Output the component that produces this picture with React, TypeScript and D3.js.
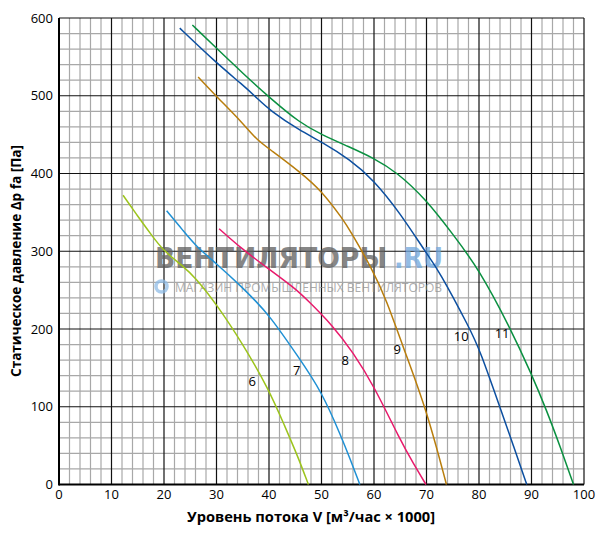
import * as d3 from "d3";

// fan performance curves: [flow (x1000 m3/h), static pressure Pa]
const fan6: [number, number][] = [
  [12.2, 372], [15, 345], [17.5, 322], [19.8, 301], [23.6, 281], [26, 266],
  [30, 232], [35, 181], [40, 122], [43, 75], [45.5, 36], [47.5, 0],
];
const fan7: [number, number][] = [
  [20.5, 352], [23.6, 327], [26, 307], [30, 284], [35, 253], [37.3, 237],
  [40, 218], [45.5, 165], [50, 120], [53.8, 61], [55.5, 32], [57.3, 0],
];
const fan8: [number, number][] = [
  [30.5, 329], [35, 302], [40, 277], [45, 252], [47.2, 238], [52.2, 204],
  [56, 170], [59.9, 128], [65, 57], [67.5, 27], [69.9, 0],
];
const fan9: [number, number][] = [
  [26.5, 524], [30, 499], [35, 465], [37.7, 443], [40.2, 431], [45.9, 402],
  [50, 378], [54.2, 340], [55.4, 327], [59.6, 278], [62.4, 237], [65.3, 181],
  [69.9, 99], [73.8, 0],
];
const fan10: [number, number][] = [
  [23, 587], [30, 542], [35, 514], [37.7, 497], [40.2, 481], [45.9, 455],
  [50, 441], [55.4, 418], [59.9, 392], [65, 349], [70, 297], [72.3, 276],
  [78.3, 200], [80.2, 172], [84, 99], [86.5, 51], [89.1, 0],
];
const fan11: [number, number][] = [
  [25.4, 591], [30, 561], [35, 529], [40.2, 497], [45.9, 465], [50, 450],
  [55, 435], [59.9, 420], [64.3, 402], [70, 366], [75.1, 321], [79.9, 278],
  [85.9, 202], [90, 142], [92.9, 95], [95.5, 48], [98, 0],
];

const fanNames = ["6", "7", "8", "9", "10", "11"];
const fanSeries = [fan6, fan7, fan8, fan9, fan10, fan11];
const fanColors = ["#9cc41c", "#1f90d4", "#e8196b", "#b87d0c", "#0c4fa0", "#0a9040"];
// label anchor in data units
const labelPos: [number, number][] = [
  [36.8, 133], [45.3, 147], [54.5, 160], [64.4, 174], [76.6, 191], [84.4, 195],
];

const xTicks = d3.range(0, 101, 10);
const yTicks = d3.range(0, 601, 100);
const xMinor = d3.range(0, 101, 2);
const yMinor = d3.range(0, 601, 20);

const W = 600;
const H = 534;
const margin = { top: 18, right: 16, bottom: 49.5, left: 59 };

export default function App() {
  const x = d3.scaleLinear().domain([0, 100]).range([margin.left, W - margin.right]);
  const y = d3.scaleLinear().domain([0, 600]).range([H - margin.bottom, margin.top]);

  const line = d3
    .line<[number, number]>()
    .x((d) => x(d[0]))
    .y((d) => y(d[1]))
    .curve(d3.curveBasis);

  const font = "'Open Sans', 'DejaVu Sans', sans-serif";

  return (
    <div style={{ position: "absolute", left: 0, top: 0 }}>
      <svg width={W} height={H} style={{ display: "block", background: "#fff" }}>
        {/* minor grid */}
        <g stroke="#a8a8a8" strokeWidth={1.2}>
          {xMinor.filter((v) => v % 10 !== 0).map((v) => (
            <line key={"xm" + v} x1={x(v)} x2={x(v)} y1={y(0)} y2={y(600)} />
          ))}
          {yMinor.filter((v) => v % 100 !== 0).map((v) => (
            <line key={"ym" + v} x1={x(0)} x2={x(100)} y1={y(v)} y2={y(v)} />
          ))}
        </g>
        {/* major grid */}
        <g stroke="#111" strokeWidth={1.2}>
          {xTicks.map((v) => (
            <line key={"xM" + v} x1={x(v)} x2={x(v)} y1={y(0)} y2={y(600)} />
          ))}
          {yTicks.map((v) => (
            <line key={"yM" + v} x1={x(0)} x2={x(100)} y1={y(v)} y2={y(v)} />
          ))}
        </g>
        <line x1={x(0)} x2={x(0)} y1={y(0) + 1} y2={y(600)} stroke="#000" strokeWidth={2} />
        <line x1={x(0)} x2={x(100)} y1={y(0)} y2={y(0)} stroke="#000" strokeWidth={2} />

        {/* watermark */}
        <g opacity={0.75}>
          <text
            x={155}
            y={268}
            fill="#5e5e5e"
            fontFamily="'DejaVu Sans', sans-serif"
            fontWeight="bold"
            fontSize={28}
            textLength={232}
            lengthAdjust="spacingAndGlyphs"
          >
            ВЕНТИЛЯТОРЫ
          </text>
          <text
            x={394}
            y={268}
            fill="#6fa6dc"
            fontFamily="'DejaVu Sans', sans-serif"
            fontWeight="bold"
            fontSize={28}
            textLength={49}
            lengthAdjust="spacingAndGlyphs"
          >
            .RU
          </text>
          <circle cx={161.5} cy={286.5} r={5.5} fill="none" stroke="#8fbde8" strokeWidth={3.5} />
          <text
            x={175}
            y={291.5}
            fill="#929292"
            fontFamily={font}
            fontSize={13}
            textLength={267}
            lengthAdjust="spacingAndGlyphs"
          >
            МАГАЗИН ПРОМЫШЛЕННЫХ ВЕНТИЛЯТОРОВ
          </text>
        </g>

        {/* curves */}
        {fanSeries.map((s, i) => (
          <path key={fanNames[i]} d={line(s) ?? ""} fill="none" stroke={fanColors[i]} strokeWidth={1.5} />
        ))}
        {fanNames.map((n, i) => (
          <text
            key={"l" + n}
            x={x(labelPos[i][0])}
            y={y(labelPos[i][1])}
            textAnchor="middle"
            dominantBaseline="central"
            fontFamily={font}
            fontSize={13}
            fill="#000"
          >
            {n}
          </text>
        ))}

        {/* tick labels */}
        {yTicks.map((v) => (
          <text key={"yt" + v} x={x(0) - 6} y={y(v)} dy="0.35em" textAnchor="end" fontFamily={font} fontSize={13}>
            {v}
          </text>
        ))}
        {xTicks.map((v) => (
          <text key={"xt" + v} x={x(v)} y={y(0) + 14} textAnchor="middle" fontFamily={font} fontSize={13}>
            {v}
          </text>
        ))}

        {/* axis titles */}
        <text
          x={311}
          y={522}
          textAnchor="middle"
          fontFamily={font}
          fontWeight="bold"
          fontSize={14}
          textLength={248}
          lengthAdjust="spacingAndGlyphs"
        >
          Уровень потока V [м³/час × 1000]
        </text>
        <text
          transform="translate(21,261) rotate(-90)"
          textAnchor="middle"
          fontFamily={font}
          fontWeight="bold"
          fontSize={14}
          textLength={232}
          lengthAdjust="spacingAndGlyphs"
        >
          Статическое давление Δp fa [Па]
        </text>
      </svg>
    </div>
  );
}
